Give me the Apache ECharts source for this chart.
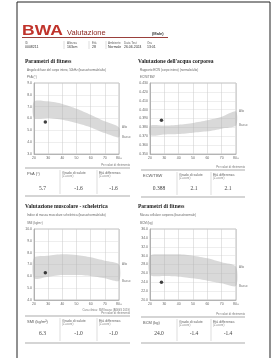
<!DOCTYPE html>
<html>
<head>
<meta charset="utf-8">
<script src="https://cdn.jsdelivr.net/npm/echarts@6/dist/echarts.min.js"></script>
<style>
  html, body { margin: 0; padding: 0; background: #fff; }
  #chart { width: 278px; height: 358px; }
</style>
</head>
<body>
<div id="chart"></div>
<script>
// età (asse x comune)
const ages = [20, 30, 40, 50, 60, 70, 80]

// Angolo di fase (PhA)
const phaUpper = [7.45, 7.45, 7.23, 6.83, 6.32, 5.76, 5.25]
const phaLower = [6.04, 6.04, 5.90, 5.62, 5.25, 4.77, 4.41]
const phaPoint = [28, 5.7]

// ECW/TBW
const ecwUpper = [0.382, 0.382, 0.383, 0.385, 0.388, 0.392, 0.398]
const ecwLower = [0.371, 0.372, 0.3725, 0.374, 0.3755, 0.3785, 0.382]
const ecwPoint = [28, 0.388]

// SMI
const smiUpper = [7.58, 7.75, 7.86, 7.80, 7.61, 7.32, 7.01]
const smiLower = [5.83, 5.97, 6.11, 6.11, 6.03, 5.83, 5.61]
const smiPoint = [28, 6.3]

// BCM
const bcmUpper = [29.99, 30.29, 30.29, 29.99, 29.39, 28.49, 27.51]
const bcmLower = [25.63, 25.41, 25.26, 24.88, 24.36, 23.76, 23.16]
const bcmPoint = [28, 24.0]

const yRanges = [
  { min: 3, max: 9, interval: 1, dec: 1 },
  { min: 0.35, max: 0.43, interval: 0.01, dec: 3 },
  { min: 4, max: 10, interval: 1, dec: 1 },
  { min: 20, max: 36, interval: 2, dec: 1 }
]

const bands = [
  [phaLower, phaUpper, phaPoint],
  [ecwLower, ecwUpper, ecwPoint],
  [smiLower, smiUpper, smiPoint],
  [bcmLower, bcmUpper, bcmPoint]
]

const grids = [
  { left: 34, top: 83, width: 85, height: 71 },
  { left: 150, top: 83, width: 86, height: 71 },
  { left: 34, top: 229, width: 85, height: 71 },
  { left: 150, top: 229, width: 86, height: 71 }
]

const chart = echarts.init(document.getElementById('chart'))

const lbl = { fontSize: 3.5, color: '#666', fontFamily: 'Liberation Sans' }

const xAxis = grids.map((g, i) => ({
  type: 'value', gridIndex: i, min: 20, max: 80, interval: 10,
  axisLine: { show: true, lineStyle: { color: '#999', width: 0.6 } },
  axisTick: { show: false },
  splitLine: { show: true, lineStyle: { color: '#c8c8c8', width: 0.5 } },
  axisLabel: { ...lbl, margin: 2, formatter: v => v === 80 ? '80+' : String(v) }
}))

const yAxis = yRanges.map((r, i) => ({
  type: 'value', gridIndex: i, min: r.min, max: r.max, interval: r.interval,
  axisLine: { show: true, lineStyle: { color: '#999', width: 0.6 } },
  axisTick: { show: false },
  splitLine: { show: true, lineStyle: { color: '#dcdcdc', width: 0.5 } },
  axisLabel: { ...lbl, margin: 2, formatter: v => v.toFixed(r.dec) }
}))

// fascia di riferimento disegnata come poligono sulle coordinate dell'asse
function bandRenderer(lower, upper) {
  return function (params, api) {
    if (params.dataIndex !== 0) return
    const top = ages.map((a, k) => api.coord([a, upper[k]]))
    const bot = ages.map((a, k) => api.coord([a, lower[k]]))
    const pts = top.concat(bot.slice().reverse())
    const last = ages.length - 1
    return {
      type: 'group',
      children: [
        { type: 'polygon', shape: { points: pts, smooth: 0.25 }, style: { fill: 'rgba(170,170,170,0.45)' } },
        { type: 'text', x: top[last][0] + 3, y: top[last][1], style: { text: 'Alto', fontSize: 3, fill: '#777', verticalAlign: 'middle' } },
        { type: 'text', x: bot[last][0] + 3, y: bot[last][1], style: { text: 'Basso', fontSize: 3, fill: '#777', verticalAlign: 'middle' } }
      ]
    }
  }
}

const series = []
bands.forEach(([lower, upper, point], i) => {
  series.push({
    type: 'custom', xAxisIndex: i, yAxisIndex: i, silent: true, clip: false,
    data: ages.map((a, k) => [a, lower[k], upper[k]]),
    encode: { x: 0, y: [1, 2] },
    renderItem: bandRenderer(lower, upper)
  })
  series.push({
    type: 'scatter', xAxisIndex: i, yAxisIndex: i,
    data: [point], symbolSize: 3.5, itemStyle: { color: '#111' }, z: 5
  })
})

// helpers per testi e linee del documento
const T = (x, y, text, o = {}) => ({
  type: 'text', x, y, silent: true,
  style: Object.assign({ text, fontSize: 3.5, fill: '#666', fontFamily: 'Liberation Sans', verticalAlign: 'middle' }, o)
})
const L = (x1, y1, x2, y2, stroke = '#999', lineWidth = 0.6) => ({
  type: 'line', silent: true, shape: { x1, y1, x2, y2 }, style: { stroke, lineWidth }
})

const serif = 'Liberation Serif'

function table(x0, x1, s1, s2, yTop, yVal, yBot, name, vals, note) {
  const els = [
    L(x0, yTop, x1, yTop, '#888', 0.7),
    L(x0, yBot, x1, yBot, '#888', 0.7),
    L(s1, yTop + 2, s1, yBot - 2, '#bbb', 0.5),
    L(s2, yTop + 2, s2, yBot - 2, '#bbb', 0.5),
    T(x0 + 2, yTop + 6, name, { fontSize: 4, fill: '#555' }),
    T(s1 + 2, yTop + 5, 'Grado di salute', { fontSize: 3.5 }),
    T(s1 + 2, yTop + 8.5, '(Z-score)', { fontSize: 2.8, fill: '#888' }),
    T(s2 + 2, yTop + 5, 'Età differenza', { fontSize: 3.5 }),
    T(s2 + 2, yTop + 8.5, '(Z-score)', { fontSize: 2.8, fill: '#888' }),
    T((x0 + s1) / 2, yVal, vals[0], { fontSize: 5.5, fill: '#444', fontFamily: serif, align: 'center' }),
    T((s1 + s2) / 2, yVal, vals[1], { fontSize: 5.5, fill: '#444', fontFamily: serif, align: 'center' }),
    T((s2 + x1) / 2, yVal, vals[2], { fontSize: 5.5, fill: '#444', fontFamily: serif, align: 'center' })
  ]
  note.forEach((n, k) => els.push(T(x1, yTop - 3 - (note.length - 1 - k) * 3, n, { fontSize: 2.8, fill: '#777', align: 'right' })))
  return els
}

const graphic = [
  { type: 'rect', silent: true, shape: { x: 17, y: 2, width: 253, height: 400 }, style: { fill: 'none', stroke: '#222', lineWidth: 1 } },
  { type: 'text', x: 22, y: 31, scaleX: 1.25, silent: true,
    style: { text: 'BWA', fontSize: 14, fontWeight: 'bold', fill: '#c0332b', fontFamily: 'Liberation Sans', verticalAlign: 'middle' } },
  T(67, 32.5, 'Valutazione', { fontSize: 7.5, fill: '#8e2a25', fontFamily: 'Liberation Sans' }),
  T(152, 33.5, '(Male)', { fontSize: 4, fill: '#333', fontWeight: 'bold' }),
  L(22, 37.5, 168, 37.5, '#8e2a25', 0.9),
  // riga info
  T(25, 43, 'ID', { fontSize: 3 }), T(25, 47.5, '0008211', { fontSize: 3.5, fill: '#333' }),
  L(64, 41, 64, 49, '#bbb', 0.5),
  T(67, 43, 'Altezza', { fontSize: 3 }), T(67, 47.5, '163cm', { fontSize: 3.5, fill: '#333' }),
  L(89, 41, 89, 49, '#bbb', 0.5),
  T(92, 43, 'Età', { fontSize: 3 }), T(92, 47.5, '28', { fontSize: 3.5, fill: '#333' }),
  L(106, 41, 106, 49, '#bbb', 0.5),
  T(108, 43, 'Ambiente', { fontSize: 3 }), T(108, 47.5, 'Normale', { fontSize: 3.5, fill: '#333' }),
  T(124, 43, 'Data Test', { fontSize: 3 }), T(124, 47.5, '26.06.2024', { fontSize: 3.5, fill: '#333' }),
  T(147, 43, 'Ora', { fontSize: 3 }), T(147, 47.5, '13:01', { fontSize: 3.5, fill: '#333' }),

  // titoli grafici
  T(25, 62, 'Parametri di fitness', { fontSize: 5.5, fontWeight: 'bold', fill: '#222', fontFamily: serif }),
  T(27, 70.5, 'Angolo di fase del corpo intero, 50kHz (basso/normale/alto)', { fontSize: 3 }),
  T(27, 77, 'PhA (°)', { fontSize: 3 }),
  T(138, 62, "Valutazione dell'acqua corporea", { fontSize: 5.5, fontWeight: 'bold', fill: '#222', fontFamily: serif }),
  T(140, 70.5, 'Rapporto ECW (corpo intero) (normale/alto)', { fontSize: 3 }),
  T(140, 77, 'ECW/TBW', { fontSize: 3 }),
  T(25, 207, 'Valutazione muscolare - scheletrica', { fontSize: 5.5, fontWeight: 'bold', fill: '#222', fontFamily: serif }),
  T(27, 215.5, 'Indice di massa muscolare scheletrica (basso/normale/alto)', { fontSize: 3 }),
  T(27, 223, 'SMI (kg/m²)', { fontSize: 3 }),
  T(138, 207, 'Parametri di fitness', { fontSize: 5.5, fontWeight: 'bold', fill: '#222', fontFamily: serif }),
  T(140, 215.5, 'Massa cellulare corporea (basso/normale)', { fontSize: 3 }),
  T(140, 223, 'BCM (kg)', { fontSize: 3 }),

  ...table(25, 130, 60, 97, 168, 189, 196, 'PhA (°)', ['5.7', '-1.6', '-1.6'], ['Per valori di riferimento']),
  ...table(141, 245, 177, 211, 170, 189, 197, 'ECW/TBW', ['0.388', '2.1', '2.1'], ['Per valori di riferimento']),
  ...table(25, 130, 60, 97, 316, 334, 343, 'SMI (kg/m²)', ['6.3', '-1.0', '-1.0'], ['Cura clinica: SMI basso (AWGS 2019)', 'Per valori di riferimento']),
  ...table(141, 245, 177, 211, 317, 334, 343, 'BCM (kg)', ['24.0', '-1.4', '-1.4'], ['Per valori di riferimento'])
]

chart.setOption({
  animation: false,
  grid: grids.map(g => ({ ...g, show: true, borderColor: '#999', borderWidth: 0.6 })),
  xAxis,
  yAxis,
  series,
  graphic
})

window.addEventListener('resize', () => chart.resize())
</script>
</body>
</html>
